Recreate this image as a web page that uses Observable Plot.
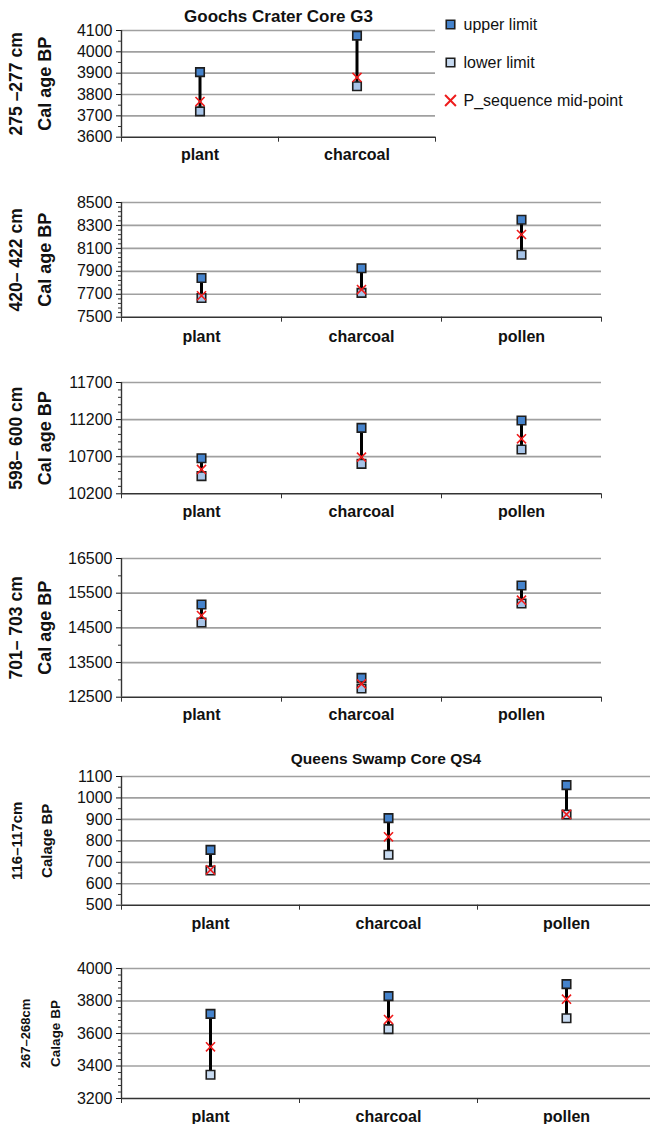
<!DOCTYPE html>
<html>
<head>
<meta charset="utf-8">
<script src="https://cdn.jsdelivr.net/npm/d3@7"></script>
<script src="https://cdn.jsdelivr.net/npm/@observablehq/plot@0.6"></script>
<style>
  html, body { margin: 0; padding: 0; background: #fff; overflow: hidden; }
  #wrap { position: relative; width: 650px; height: 1124px; }
  #wrap svg { position: absolute; left: 0; overflow: visible; }
</style>
</head>
<body>
<div id="wrap"></div>
<script>
// ---- Data ----
const categories = ["plant", "charcoal", "pollen"];
const legendLabels = ["upper limit", "lower limit", "P_sequence mid-point"];
const titles = ["Goochs Crater Core G3", "Queens Swamp Core QS4"];
const depthLabels = ["275 –277 cm", "420– 422 cm", "598– 600 cm", "701– 703 cm", "116–117cm", "267–268cm"];
const ageLabels = ["Cal age BP", "Cal age BP", "Cal age BP", "Cal age BP", "Calage BP", "Calage BP"];

// Goochs Crater Core G3 (panel 1 has only plant and charcoal)
const upper1 = [3905, 4076];
const lower1 = [3721, 3839];
const mid1   = [3767, 3880];

const upper2 = [7842, 7927, 8349];
const lower2 = [7668, 7712, 8044];
const mid2   = [7687, 7741, 8221];

const upper3 = [10680, 11089, 11188];
const lower3 = [10438, 10604, 10797];
const mid3   = [10528, 10694, 10941];

const upper4 = [15173, 13058, 15721];
const lower4 = [14654, 12750, 15202];
const mid4   = [14856, 12885, 15298];

// Queens Swamp Core QS4
const upper5 = [758, 906, 1060];
const lower5 = [662, 735, 923];
const mid5   = [665, 819, 923];

const upper6 = [3721, 3830, 3904];
const lower6 = [3346, 3627, 3694];
const mid6   = [3518, 3686, 3811];

// y-axis tick settings: [min, max, major step, minor step]
const yAxes = [
  [3600, 4100, 100, 50],
  [7500, 8500, 200, 40],
  [10200, 11700, 500, 100],
  [12500, 16500, 1000, 500],
  [500, 1100, 100, 50],
  [3200, 4000, 200, 40]
];

// ---- Layout ----
const FONT = "'Liberation Sans', Arial, Helvetica, sans-serif";
const layout = [
  {top: 0,   height: 175, mt: 30, mb: 38.3, xEnd: 435, d1: {x: 16, size: 17.5}, d2: {x: 45, size: 18}, title: 0, titleDy: -14, titleSize: 17, legend: true, labelPad: 11, lowerFill: "#a7c4e8"},
  {top: 175, height: 175, mt: 27, mb: 33.3, xEnd: 601, d1: {x: 16, size: 17.5}, d2: {x: 45, size: 18}, labelPad: 13, lowerFill: "#a7c4e8"},
  {top: 350, height: 180, mt: 32, mb: 36.7, xEnd: 601, d1: {x: 16, size: 17.5}, d2: {x: 45, size: 18}, labelPad: 12, lowerFill: "#a7c4e8"},
  {top: 530, height: 205, mt: 28, mb: 38.3, xEnd: 601, d1: {x: 16, size: 17.5}, d2: {x: 45, size: 18}, labelPad: 11, lowerFill: "#a7c4e8"},
  {top: 735, height: 195, mt: 41, mb: 25.3, xEnd: 655, d1: {x: 17, size: 15}, d2: {x: 47, size: 15}, title: 1, titleDy: -17, titleSize: 15.5, labelPad: 12, lowerFill: "#c9dcf2"},
  {top: 930, height: 194, mt: 38, mb: 26,   xEnd: 655, d1: {x: 25, size: 13}, d2: {x: 55, size: 13.5}, labelPad: 12, lowerFill: "#c9dcf2"}
];

const series = [
  [upper1, lower1, mid1],
  [upper2, lower2, mid2],
  [upper3, lower3, mid3],
  [upper4, lower4, mid4],
  [upper5, lower5, mid5],
  [upper6, lower6, mid6]
];

const UPPER_FILL = "#4583cc";
const MARK_STROKE = "#1e1e1e";
const MID_COLOR = "#ee1c1c";
const GRID = "#a0a0a0";
const AXIS = "#333";

const wrap = document.getElementById("wrap");

series.forEach(([up, lo, mi], p) => {
  const L = layout[p];
  const [ymin, ymax, step, mstep] = yAxes[p];
  const n = up.length;
  const cats = categories.slice(0, n);
  const rows = cats.map((c, i) => ({cat: c, pos: i + 0.5, upper: up[i], lower: lo[i], mid: mi[i]}));
  const majors = d3.range(ymin, ymax + step / 2, step);
  const minors = d3.range(ymin, ymax + mstep / 2, mstep).filter(v => !majors.some(m => Math.abs(m - v) < 1e-6));

  const marks = [
    Plot.ruleY(majors.slice(1), {stroke: GRID, strokeWidth: 1.7}),
    Plot.axisY(minors, {tickSize: 3, tickFormat: () => "", color: AXIS, label: null}),
    Plot.axisY(majors, {tickSize: 5, tickPadding: 4, fontSize: 16, color: "#111", tickFormat: d => String(d), label: null}),
    Plot.ruleX([0], {stroke: AXIS, strokeWidth: 1.4}),
    Plot.ruleY([ymin], {stroke: AXIS, strokeWidth: 1.4}),
    Plot.axisX(d3.range(n + 1), {tickSize: 5, tickFormat: () => "", color: AXIS, label: null}),
    Plot.axisX(rows.map(r => r.pos), {tickSize: 0, tickPadding: L.labelPad, tickFormat: v => cats[Math.floor(v)], fontSize: 16, fontWeight: "bold", color: "#111", label: null}),
    Plot.ruleX(rows, {x: "pos", y1: "lower", y2: "upper", stroke: "#000", strokeWidth: 3}),
    Plot.dot(rows, {x: "pos", y: "upper", symbol: "square", r: 4.8, fill: UPPER_FILL, stroke: MARK_STROKE, strokeWidth: 1.6}),
    Plot.dot(rows, {x: "pos", y: "lower", symbol: "square", r: 4.8, fill: L.lowerFill, stroke: MARK_STROKE, strokeWidth: 1.6}),
    Plot.dot(rows, {x: "pos", y: "mid", symbol: "times", r: 4.2, stroke: MID_COLOR, strokeWidth: 1.6}),
    Plot.text([depthLabels[p]], {frameAnchor: "left", dx: L.d1.x - 121, rotate: -90, textAnchor: "middle", lineAnchor: "middle", fontSize: L.d1.size, fontWeight: "bold", fill: "#111"}),
    Plot.text([ageLabels[p]], {frameAnchor: "left", dx: L.d2.x - 121, rotate: -90, textAnchor: "middle", lineAnchor: "middle", fontSize: L.d2.size, fontWeight: "bold", fill: "#111"})
  ];

  if (L.title !== undefined) {
    marks.push(Plot.text([titles[L.title]], {frameAnchor: "top", dy: L.titleDy, lineAnchor: "middle", textAnchor: "middle", fontSize: L.titleSize, fontWeight: "bold", fill: "#111"}));
  }

  if (L.legend) {
    const legendDy = [-6, 32, 70];
    marks.push(
      Plot.dot([0], {frameAnchor: "top-right", dx: 15, dy: legendDy[0], symbol: "square", r: 4.8, fill: UPPER_FILL, stroke: MARK_STROKE, strokeWidth: 1.6}),
      Plot.dot([0], {frameAnchor: "top-right", dx: 15, dy: legendDy[1], symbol: "square", r: 4.8, fill: "#c6d9f0", stroke: MARK_STROKE, strokeWidth: 1.6}),
      Plot.dot([0], {frameAnchor: "top-right", dx: 15, dy: legendDy[2], symbol: "times", r: 5, stroke: MID_COLOR, strokeWidth: 2}),
      ...legendLabels.map((t, i) => Plot.text([t], {frameAnchor: "top-right", dx: 28, dy: legendDy[i], textAnchor: "start", lineAnchor: "middle", fontSize: 16, fill: "#111"}))
    );
  }

  const chart = Plot.plot({
    width: 650,
    height: L.height,
    marginTop: L.mt,
    marginBottom: L.mb,
    marginLeft: 121,
    marginRight: Math.max(0, 650 - L.xEnd),
    x: {domain: [0, n], range: [121, L.xEnd], axis: null},
    y: {domain: [ymin, ymax], axis: null},
    style: {fontFamily: FONT, background: "transparent", overflow: "visible"},
    marks
  });
  chart.style.top = L.top + "px";
  wrap.appendChild(chart);
});
</script>
</body>
</html>
